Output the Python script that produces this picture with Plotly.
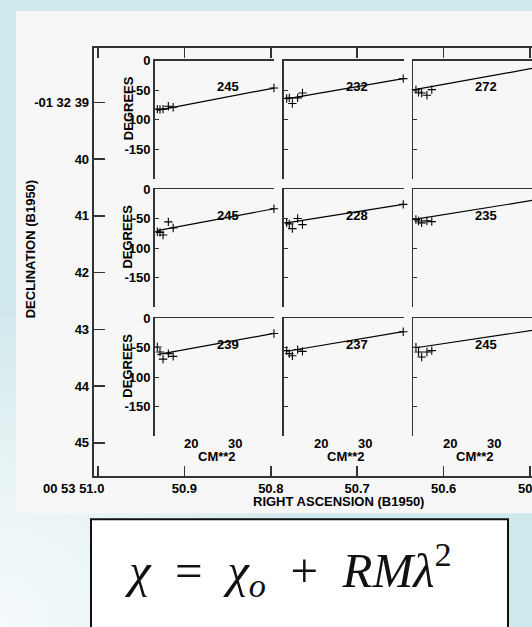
import base64
import plotly.graph_objects as go

W, H = 532, 627

# ---------------- data ----------------
RA_TICKS = [51.0, 50.9, 50.8, 50.7, 50.6, 50.5]
RA_TICK_TEXT = ["00 53 51.0", "50.9", "50.8", "50.7", "50.6", "50.5"]
DEC_TICKS = [39, 40, 41, 42, 43, 44, 45]
DEC_TICK_TEXT = ["-01 32 39", "40", "41", "42", "43", "44", "45"]

LAMBDA_SQ = [12.3, 12.9, 13.6, 14.8, 15.9, 38.8]          # cm^2
CHI_ROW1 = [[-82, -82.5, -82, -77, -78.7, -46.3],
            [-64, -63, -72.5, -63, -54.6, -30.3],
            [-48.9, -53.4, -54.6, -58.5, -48.9, -13]]
CHI_ROW2 = [[-72, -73.1, -77.7, -55.4, -65.7, -33.2],
            [-57, -58.8, -66.9, -49.7, -60, -25.8],
            [-51.4, -54, -57.1, -53.7, -54.9, -19]]
CHI_ROW3 = [[-48.7, -57.1, -69.2, -60, -64.7, -25.8],
            [-54.9, -60, -63.5, -53.2, -56.1, -22.9],
            [-49.2, -57.1, -65.7, -57.1, -54.9, -20.6]]
FIT_X = [12.3, 38.8]
FIT_ROW1 = [[-84, -46.3], [-64.6, -30.3], [-48.5, -13]]
FIT_ROW2 = [[-70.3, -33.2], [-57.1, -25.8], [-50.9, -19]]
FIT_ROW3 = [[-61.8, -25.8], [-56, -22.9], [-50, -20.6]]
RM = [[245, 232, 272], [245, 228, 235], [239, 237, 245]]

SUB_Y_TICKS = [0, -50, -100, -150]
SUB_Y_TEXT = ["0", "-50", "-100", "-150"]
SUB_X_TICKS = [20, 30]
SUB_Y_RANGE = [-200, 0]

CHI = [CHI_ROW1, CHI_ROW2, CHI_ROW3]
FIT = [FIT_ROW1, FIT_ROW2, FIT_ROW3]

# ---------------- geometry (pixels) ----------------
def px(x):
    return x / W

def py(y):
    return 1 - y / H

FRAME_L, FRAME_T, FRAME_B = 93.7, 41.7, 474.0
RA_AT_98 = 51.0
RA_PX_PER_UNIT = 864.0
DEC39_Y, DEC_PX = 96.4, 57.4

ra_left = RA_AT_98 + (98 - FRAME_L) / RA_PX_PER_UNIT
ra_right = RA_AT_98 - (W - 98) / RA_PX_PER_UNIT
dec_top = 39 - (DEC39_Y - FRAME_T) / DEC_PX
dec_bot = 39 + (FRAME_B - DEC39_Y) / DEC_PX

COL_L = [154.7, 284.0, 413.3]
COL_W = 119.5
ROW_T = [54.3, 184.2, 314.7]
ROW_H = 119.5
X_PX_PER_CM2 = 4.4
X_LEFT = 11.7

LINE_C = "#333333"
BOLD = dict(family="Liberation Sans, Arial, sans-serif", size=13, color="black", weight="bold")

fig = go.Figure()

# main (sky) axes
fig.add_trace(go.Scatter(x=[RA_TICKS[2]], y=[DEC_TICKS[2]], mode="markers",
                         marker=dict(opacity=0), hoverinfo="skip", showlegend=False,
                         xaxis="x", yaxis="y"))

ra_text = [" "] + RA_TICK_TEXT[1:-1] + [" "]
layout = dict(
    width=W, height=H, autosize=False,
    margin=dict(l=0, r=0, t=0, b=0, pad=0),
    paper_bgcolor="#cfe8ec", plot_bgcolor="rgba(0,0,0,0)",
    showlegend=False,
    xaxis=dict(domain=[px(FRAME_L), 1.0], range=[ra_left, ra_right], anchor="y",
               tickmode="array", tickvals=RA_TICKS, ticktext=ra_text,
               ticks="inside", ticklen=10, tickwidth=1.5, tickcolor=LINE_C,
               showline=True, linecolor=LINE_C, linewidth=2, mirror="ticks",
               showgrid=False, zeroline=False, tickfont=BOLD, fixedrange=True),
    yaxis=dict(domain=[py(FRAME_B), py(FRAME_T)], range=[dec_bot, dec_top], anchor="x",
               tickmode="array", tickvals=DEC_TICKS, ticktext=DEC_TICK_TEXT,
               ticks="inside", ticklen=11, tickwidth=1.5, tickcolor=LINE_C,
               showline=True, linecolor=LINE_C, linewidth=2,
               showgrid=False, zeroline=False, tickfont=BOLD, fixedrange=True),
)

annotations = []
n = 2
for r in range(3):
    for c in range(3):
        xl = COL_L[c]
        xr = min(xl + COL_W, W)
        xa, ya = f"x{n}", f"y{n}"
        layout[f"xaxis{n}"] = dict(
            domain=[px(xl), px(xr)], range=[X_LEFT, X_LEFT + (xr - xl) / X_PX_PER_CM2],
            anchor=ya, side="top", showline=True, linecolor=LINE_C, linewidth=1.6,
            ticks="", showticklabels=False, showgrid=False, zeroline=False, fixedrange=True)
        layout[f"yaxis{n}"] = dict(
            domain=[py(ROW_T[r] + ROW_H), py(ROW_T[r])], range=SUB_Y_RANGE,
            anchor=xa, side="left", showline=True, linecolor=LINE_C, linewidth=1.6,
            ticks="inside", ticklen=4, tickwidth=1, tickcolor=LINE_C,
            tickmode="array", tickvals=SUB_Y_TICKS, ticktext=SUB_Y_TEXT,
            showticklabels=(c == 0), tickfont=BOLD,
            showgrid=False, zeroline=False, fixedrange=True)
        fig.add_trace(go.Scatter(x=FIT_X, y=FIT[r][c], mode="lines",
                                 line=dict(color="black", width=1.2),
                                 xaxis=xa, yaxis=ya, hoverinfo="skip"))
        fig.add_trace(go.Scatter(x=LAMBDA_SQ, y=CHI[r][c], mode="markers",
                                 marker=dict(symbol="cross-thin", size=6,
                                             line=dict(color="black", width=1.1)),
                                 cliponaxis=False, xaxis=xa, yaxis=ya, hoverinfo="skip"))
        annotations.append(dict(x=28.3, y=-44, xref=xa, yref=ya, text=str(RM[r][c]),
                                showarrow=False, font=BOLD, xanchor="center", yanchor="middle"))
        if r == 2:
            for t in SUB_X_TICKS:
                annotations.append(dict(x=t, y=py(441), xref=xa, yref="paper", text=str(t),
                                        showarrow=False, font=BOLD, xanchor="center",
                                        yanchor="middle"))
            annotations.append(dict(x=0.52, y=py(454.5), xref=f"{xa} domain", yref="paper",
                                    text="CM**2", showarrow=False, font=BOLD,
                                    xanchor="center", yanchor="middle"))
        n += 1
    annotations.append(dict(x=px(128), y=py(ROW_T[r] + 48), xref="paper", yref="paper",
                            text="DEGREES", textangle=-90, showarrow=False, font=BOLD,
                            xanchor="center", yanchor="middle"))

# first RA label with its prefix, and the last (edge) label
annotations.append(dict(x=RA_TICKS[0], y=py(487), xref="x", yref="paper",
                        text=RA_TICK_TEXT[0], showarrow=False, font=BOLD,
                        xanchor="right", xshift=8, yanchor="middle"))
annotations.append(dict(x=RA_TICKS[-1], y=py(487), xref="x", yref="paper",
                        text=RA_TICK_TEXT[-1], showarrow=False, font=BOLD,
                        xanchor="center", yanchor="middle"))
annotations.append(dict(x=px(338), y=py(500.5), xref="paper", yref="paper",
                        text="RIGHT ASCENSION (B1950)", showarrow=False, font=BOLD,
                        xanchor="center", yanchor="middle"))
annotations.append(dict(x=px(30), y=py(245), xref="paper", yref="paper",
                        text="DECLINATION (B1950)", textangle=-90, showarrow=False,
                        font=BOLD, xanchor="center", yanchor="middle"))
# equation
annotations.append(dict(x=px(288), y=py(569), xref="paper", yref="paper",
                        text="<i>χ</i>\u2002=\u2002<i>χ<sub>o</sub></i>\u2002+\u2002<i>RMλ</i><sup>2</sup>",
                        showarrow=False,
                        font=dict(family="Liberation Serif, DejaVu Serif, serif", size=49,
                                  color="#111111"),
                        xanchor="center", yanchor="middle"))
layout["annotations"] = annotations

layout["shapes"] = [
    dict(type="rect", xref="paper", yref="paper", x0=px(16), x1=1.0, y0=py(512), y1=py(4),
         fillcolor="#f7f7f7", line=dict(width=0), layer="below"),
    dict(type="rect", xref="paper", yref="paper", x0=px(91), x1=px(508), y0=py(660), y1=py(518),
         fillcolor="white", line=dict(color="#111111", width=2), layer="below"),
]

svg = ("<svg xmlns='http://www.w3.org/2000/svg' width='532' height='627'>"
       "<defs><radialGradient id='g' gradientUnits='userSpaceOnUse' cx='0' cy='627' r='330'>"
       "<stop offset='0' stop-color='#f5fafb'/><stop offset='0.55' stop-color='#e6f2f4'/>"
       "<stop offset='1' stop-color='#cfe8ec'/></radialGradient></defs>"
       "<rect width='532' height='627' fill='url(#g)'/></svg>")
src = "data:image/svg+xml;base64," + base64.b64encode(svg.encode()).decode()
layout["images"] = [dict(source=src, xref="paper", yref="paper", x=0, y=1, sizex=1, sizey=1,
                         sizing="stretch", xanchor="left", yanchor="top", layer="below")]

fig.update_layout(**layout)
fig.write_html("out.html", config={"displayModeBar": False, "staticPlot": True})
